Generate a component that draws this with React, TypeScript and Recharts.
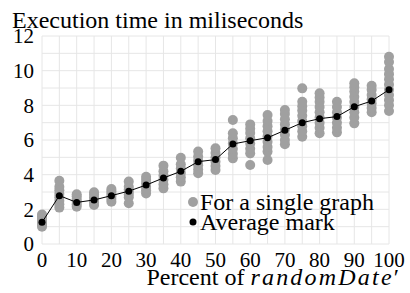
import React from 'react';
import { ComposedChart, Scatter, XAxis, YAxis, CartesianGrid } from 'recharts';

const percents = [0, 5, 10, 15, 20, 25, 30, 35, 40, 45, 50, 55, 60, 65, 70, 75, 80, 85, 90, 95, 100];

const singleGraphTimes: number[][] = [
  [1.0, 1.1, 1.2, 1.3, 1.45, 1.6, 1.7],
  [2.1, 2.3, 2.5, 2.7, 2.9, 3.1, 3.3, 3.65],
  [2.15, 2.3, 2.45, 2.6, 2.75, 2.87],
  [2.25, 2.4, 2.55, 2.7, 2.85, 2.98],
  [2.44, 2.6, 2.75, 2.9, 3.05, 3.17],
  [2.35, 2.7, 2.85, 3.0, 3.15, 3.3, 3.6],
  [2.92, 3.1, 3.3, 3.5, 3.7, 3.88],
  [3.21, 3.45, 3.7, 3.95, 4.2, 4.52],
  [3.6, 3.85, 4.1, 4.35, 4.6, 4.98],
  [4.08, 4.3, 4.55, 4.8, 5.05, 5.33],
  [4.27, 4.5, 4.75, 5.0, 5.25, 5.52],
  [4.94, 5.2, 5.5, 5.8, 6.1, 6.39, 7.15],
  [4.56, 5.23, 5.5, 5.8, 6.1, 6.4, 6.65, 6.9],
  [4.85, 5.33, 5.6, 5.9, 6.2, 6.5, 6.8, 7.1, 7.44],
  [5.75, 6.0, 6.3, 6.6, 6.9, 7.2, 7.5, 7.73],
  [6.19, 6.5, 6.8, 7.1, 7.4, 7.7, 7.95, 8.21, 8.98],
  [6.39, 6.7, 7.0, 7.3, 7.6, 7.9, 8.2, 8.45, 8.7],
  [6.44, 6.7, 7.0, 7.3, 7.6, 7.9, 8.21],
  [6.96, 7.3, 7.6, 7.9, 8.2, 8.5, 8.8, 9.05, 9.27],
  [7.6, 7.85, 8.1, 8.35, 8.6, 8.9, 9.13],
  [7.67, 8.0, 8.3, 8.6, 8.9, 9.2, 9.5, 9.8, 10.1, 10.5, 10.8],
];

const averageTimes = [1.25, 2.79, 2.4, 2.54, 2.79, 3.05, 3.4, 3.81, 4.19, 4.75, 4.87, 5.77, 5.96, 6.13, 6.56, 7.0, 7.23, 7.35, 7.92, 8.25, 8.9];

const xTicks = [0, 5, 10, 15, 20, 25, 30, 35, 40, 45, 50, 55, 60, 65, 70, 75, 80, 85, 90, 95, 100];
const yTicks = [0, 1, 2, 3, 4, 5, 6, 7, 8, 9, 10, 11, 12];

const singleData = percents.flatMap((p, i) => singleGraphTimes[i].map((v) => ({ x: p, y: v })));
const avgData = percents.map((p, i) => ({ x: p, y: averageTimes[i] }));

const FONT = 'Liberation Serif';
const GRAY = '#a0a0a0';

const GrayDot = (props: any) => <circle cx={props.cx} cy={props.cy} r={5} fill={GRAY} />;
const BlackDot = (props: any) => <circle cx={props.cx} cy={props.cy} r={3.5} fill="#000" />;

export default function App() {
  return (
    <div style={{ position: 'absolute', left: 0, top: 0, width: 410, height: 293, fontFamily: FONT }}>
      <ComposedChart width={410} height={293} margin={{ top: 36, right: 21, bottom: 0, left: 0 }}>
        <CartesianGrid stroke="#e6e6e6" strokeWidth={1} />
        <XAxis
          type="number"
          dataKey="x"
          domain={[0, 100]}
          ticks={xTicks}
          interval={0}
          tickFormatter={(v: number) => (v % 10 === 0 ? String(v) : '')}
          axisLine={false}
          tickLine={false}
          height={49}
          tick={{ fontFamily: FONT, fontSize: 21, fill: '#000' }}
          label={{
            content: (p: any) => {
              const vb = p.viewBox || { x: 42, y: 244, width: 347 };
              return (
                <text x={vb.x + vb.width + 10} y={vb.y + 41} textAnchor="end" fontFamily={FONT} fontSize={24} fill="#000">
                  <tspan>Percent of </tspan>
                  <tspan fontStyle="italic" letterSpacing={2.2}>randomDate</tspan>
                  <tspan>′</tspan>
                </text>
              );
            },
          }}
        />
        <YAxis
          type="number"
          dataKey="y"
          domain={[0, 12]}
          ticks={yTicks}
          interval={0}
          tickFormatter={(v: number) => (v % 2 === 0 ? String(v) : '')}
          axisLine={false}
          tickLine={false}
          width={42}
          tick={{ fontFamily: FONT, fontSize: 21, fill: '#000' }}
          label={{
            content: () => (
              <text x={12} y={28} fontFamily={FONT} fontSize={24} fill="#000">
                Execution time in miliseconds
              </text>
            ),
          }}
        />
        <Scatter name="For a single graph" data={singleData} shape={GrayDot} isAnimationActive={false} />
        <Scatter
          name="Average mark"
          data={avgData}
          shape={BlackDot}
          line={{ stroke: '#000', strokeWidth: 1 }}
          lineType="joint"
          isAnimationActive={false}
        />
      </ComposedChart>
      <div
        style={{
          position: 'absolute',
          left: 187,
          top: 192,
          fontFamily: FONT,
          fontSize: 24,
          lineHeight: '20px',
          color: '#000',
        }}
      >
        <div style={{ display: 'flex', alignItems: 'center', whiteSpace: 'nowrap' }}>
          <svg width={12} height={12} style={{ marginRight: 1 }}>
            <circle cx={6} cy={6} r={5} fill={GRAY} />
          </svg>
          <span>For a single graph</span>
        </div>
        <div style={{ display: 'flex', alignItems: 'center', whiteSpace: 'nowrap' }}>
          <svg width={12} height={12} style={{ marginRight: 1 }}>
            <circle cx={6} cy={6} r={3.5} fill="#000" />
          </svg>
          <span>Average mark</span>
        </div>
      </div>
    </div>
  );
}
